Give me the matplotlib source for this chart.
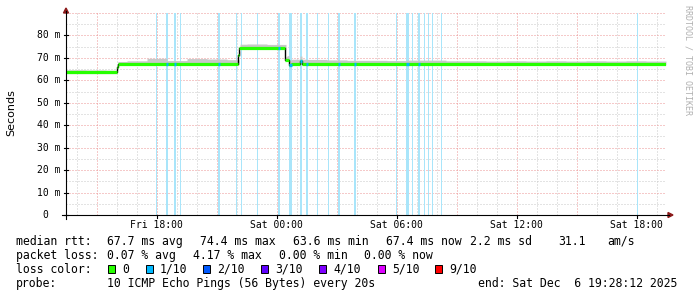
import numpy as np
import matplotlib
matplotlib.use("Agg")
import matplotlib.pyplot as plt
from matplotlib.patches import Rectangle, Polygon
from matplotlib.lines import Line2D

# time in hours since Fri 00:00, values in ms
t_start = 13.47
t_end = 43.47

# median rtt steps (start time of each level)
med_t = [13.47, 16.02, 16.07, 22.08, 22.13, 24.44, 24.62, 24.72, 25.17, 25.25, 43.47]
med_v = [63.6, 66.0, 67.5, 71.4, 74.4, 69.0, 66.9, 67.4, 68.8, 67.4]

# smoke spread above the median, one value per hour from t_start
smoke_up = [1.1, 1.0, 0.9, 1.2, 2.3, 1.3, 2.2, 2.0, 1.7, 1.8, 1.6, 2.0,
            1.9, 1.7, 1.5, 1.5, 1.4, 1.6, 1.6, 1.3, 1.3, 1.2, 1.3, 1.2,
            1.3, 1.2, 1.3, 1.2, 1.3, 1.2]
smoke_dn = 0.6

# packet loss events: time (h) and width (in 3-minute steps)
loss_t = [18.0, 18.5, 18.92, 19.18, 21.1, 22.0, 22.23, 23.03, 24.1, 24.69,
          25.2, 25.5, 26.03, 26.6, 27.1, 27.9, 30.02, 30.54, 30.78, 31.12,
          31.39, 31.59, 31.78, 32.23, 42.02]
loss_w = [1, 2, 2, 1, 2, 1, 1, 1, 2, 3, 2, 2, 1, 1, 2, 2, 1, 3, 1, 2, 1, 1, 1, 1, 1]

x_ticks = [18, 24, 30, 36, 42]
x_labels = ["Fri 18:00", "Sat 00:00", "Sat 06:00", "Sat 12:00", "Sat 18:00"]
y_ticks = [0, 10, 20, 30, 40, 50, 60, 70, 80]
y_labels = ["0", "10 m", "20 m", "30 m", "40 m", "50 m", "60 m", "70 m", "80 m"]

loss_names = ["0", "1/10", "2/10", "3/10", "4/10", "5/10", "9/10"]
loss_colors = ["#26ff00", "#00b8ff", "#0059ff", "#5e00ff", "#7e00ff", "#dd00ff", "#ff0000"]

W, H = 697, 297
fig = plt.figure(figsize=(W / 100, H / 100), dpi=100)
fig.patch.set_facecolor("white")
ax = fig.add_axes([66 / W, (H - 215) / H, 600 / W, 202 / H])
ax.set_xlim(t_start, t_end)
ax.set_ylim(0, 90)
for s in ax.spines.values():
    s.set_visible(False)
ax.set_xticks([])
ax.set_yticks([])

dots = (0, (1, 2))
# grid
for h in range(14, 44):
    c = "#ec9494" if h % 3 == 0 else "#c8c8c8"
    ax.axvline(h, color=c, lw=0.72, linestyle=dots, zorder=0)
for v in range(5, 91, 5):
    c = "#ec9494" if v % 10 == 0 else "#c8c8c8"
    ax.axhline(v, color=c, lw=0.72, linestyle=dots, zorder=0)

# loss bars
for t, w in zip(loss_t, loss_w):
    ax.axvspan(t - w * 0.025, t + w * 0.025, color="#a9e5fa", lw=0, zorder=1)

# smoke
grid_t = t_start + 0.05 * np.arange(601)
idx = np.clip(np.searchsorted(med_t, grid_t, side="right") - 1, 0, len(med_v) - 1)
med_grid = np.array(med_v)[idx]
up_grid = np.array(smoke_up)[np.clip(((grid_t - t_start) // 1).astype(int), 0, len(smoke_up) - 1)]
ax.fill_between(grid_t, med_grid - smoke_dn, med_grid + up_grid, step="post",
                color="#c8c8c8", lw=0, zorder=2)

# median: thin black steps, thick coloured levels
ax.step(med_t, med_v + [med_v[-1]], where="post", color="black", lw=1.0, zorder=3)
ax.hlines(med_v, med_t[:-1], med_t[1:], color=loss_colors[0], lw=2.3, zorder=4)
for t, w in zip(loss_t, loss_w):
    if w >= 2:
        i = np.searchsorted(med_t, t, side="right") - 1
        ax.hlines(med_v[i], t - w * 0.025, t + w * 0.025, color=loss_colors[1], lw=2.3, zorder=5)


def px(x, y):
    return x / W, 1 - y / H


mono = "DejaVu Sans Mono"
# axes lines and arrows
fig.add_artist(Line2D([62 / W, 669 / W], [px(0, 215)[1]] * 2, color="black", lw=0.8))
fig.add_artist(Line2D([66 / W] * 2, [px(0, 219)[1], px(0, 11)[1]], color="black", lw=0.8))
fig.add_artist(Polygon([px(63.5, 13), px(68.5, 13), px(66, 8)], closed=True,
                       color="#8b1a1a", transform=fig.transFigure))
fig.add_artist(Polygon([px(668, 212.5), px(668, 217.5), px(673, 215)], closed=True,
                       color="#8b1a1a", transform=fig.transFigure))

for t, lab in zip(x_ticks, x_labels):
    x = 66 + (t - t_start) * 20
    fig.add_artist(Line2D([x / W] * 2, [px(0, 215)[1], px(0, 218)[1]], color="black", lw=0.8))
    fig.text(*px(x, 224.5), lab, ha="center", va="center", family=mono, fontsize=7)
for v, lab in zip(y_ticks, y_labels):
    y = 215 - v * 202 / 90
    fig.add_artist(Line2D([64 / W, 68 / W], [px(0, y)[1]] * 2, color="black", lw=0.8))
    xr = 48 if lab == "0" else 60.5
    fig.text(*px(xr, y), lab, ha="right", va="center", family=mono, fontsize=7)

fig.text(*px(11, 113), "Seconds", rotation=90, ha="center", va="center",
         family="DejaVu Sans", fontsize=8)
fig.text(*px(688, 60), "RRDTOOL / TOBI OETIKER", rotation=-90, ha="center", va="center",
         family=mono, fontsize=6, color="#b0b0b0")

# legend rows
fs = 8.3
rows = [
    (241.3, [(16, "median rtt:"), (107, "67.7 ms avg"), (200, "74.4 ms max"),
             (293, "63.6 ms min"), (386, "67.4 ms now"), (470, "2.2 ms sd"),
             (558, "31.1"), (607, "am/s")]),
    (255.3, [(16, "packet loss:"), (107, "0.07 % avg"), (193, "4.17 % max"),
             (279, "0.00 % min"), (364, "0.00 % now")]),
    (269.3, [(16, "loss color:")]),
    (283.7, [(16, "probe:"), (107, "10 ICMP Echo Pings (56 Bytes) every 20s"),
             (478, "end: Sat Dec  6 19:28:12 2025")]),
]
for y, items in rows:
    for x, s in items:
        fig.text(*px(x, y), s, ha="left", va="center", family=mono, fontsize=fs)

sw_x = [108, 146, 203, 261, 319, 378, 435]
for x, name, col in zip(sw_x, loss_names, loss_colors):
    fig.add_artist(Rectangle(px(x, 273), 7 / W, 8 / H, facecolor=col, edgecolor="black",
                             lw=0.7, transform=fig.transFigure))
    fig.text(*px(x + 14, 269.3), name, ha="left", va="center", family=mono, fontsize=fs)

fig.savefig("out.png", dpi=100)
